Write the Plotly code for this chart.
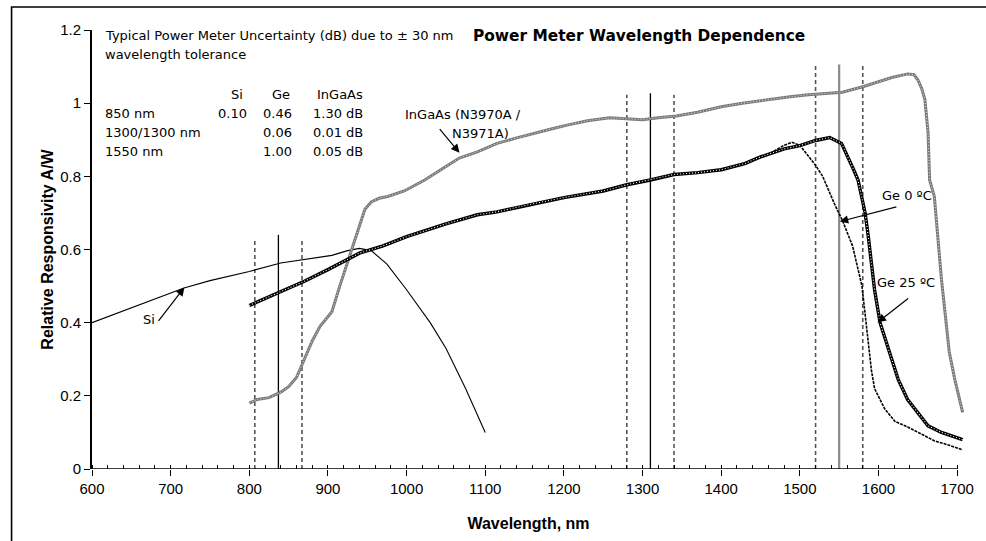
import plotly.graph_objects as go

# ---------------- data ----------------
si_wl = [600, 650, 700, 717, 750, 800, 840, 870, 905, 925, 940, 955, 975, 1000, 1030, 1050, 1075, 1100]
si_resp = [0.40, 0.44, 0.48, 0.495, 0.515, 0.54, 0.563, 0.573, 0.584, 0.597, 0.603, 0.597, 0.56, 0.49, 0.40, 0.33, 0.22, 0.10]

ge25_wl = [800, 840, 870, 900, 940, 970, 1000, 1050, 1090, 1115, 1150, 1200, 1250, 1280, 1310, 1340, 1370,
           1400, 1430, 1450, 1480, 1500, 1520, 1538, 1553, 1561, 1568, 1574, 1579, 1583, 1587, 1591, 1595,
           1602, 1610, 1617, 1625, 1637, 1655, 1663, 1680, 1707]
ge25_resp = [0.447, 0.486, 0.513, 0.545, 0.59, 0.61, 0.635, 0.67, 0.695, 0.703, 0.72, 0.742, 0.76, 0.777, 0.79,
             0.805, 0.81, 0.818, 0.835, 0.853, 0.875, 0.884, 0.898, 0.906, 0.89, 0.855, 0.82, 0.79, 0.736, 0.70,
             0.636, 0.565, 0.49, 0.40, 0.346, 0.30, 0.245, 0.19, 0.142, 0.118, 0.10, 0.08]

ge0_wl = [1400, 1430, 1460, 1480, 1490, 1500, 1511, 1520, 1529, 1533, 1545, 1554, 1567, 1579, 1585, 1591,
          1595, 1608, 1621, 1637, 1655, 1671, 1690, 1707]
ge0_resp = [0.818, 0.837, 0.86, 0.885, 0.893, 0.885, 0.855, 0.83, 0.80, 0.78, 0.72, 0.68, 0.61, 0.50, 0.38,
            0.27, 0.22, 0.164, 0.13, 0.115, 0.095, 0.077, 0.065, 0.052]

ingaas_wl = [800, 810, 825, 840, 850, 860, 870, 880, 890, 905, 915, 922, 930, 939, 947, 955, 965, 976, 997,
             1010, 1023, 1045, 1067, 1090, 1115, 1140, 1162, 1185, 1204, 1230, 1258, 1280, 1300, 1320, 1343,
             1370, 1400, 1427, 1460, 1490, 1511, 1540, 1554, 1580, 1600, 1617, 1637, 1645, 1650, 1655, 1659,
             1663, 1665, 1671, 1680, 1690, 1697, 1707]
ingaas_resp = [0.18, 0.19, 0.195, 0.21, 0.225, 0.25, 0.30, 0.35, 0.39, 0.43, 0.50, 0.545, 0.60, 0.66, 0.71,
               0.73, 0.74, 0.745, 0.76, 0.775, 0.79, 0.82, 0.85, 0.867, 0.89, 0.905, 0.918, 0.93, 0.94, 0.952,
               0.96, 0.958, 0.955, 0.96, 0.965, 0.975, 0.99, 1.0, 1.01, 1.018, 1.023, 1.028, 1.03, 1.045,
               1.058, 1.07, 1.08, 1.078, 1.064, 1.04, 1.01, 0.92, 0.79, 0.745, 0.52, 0.32, 0.245, 0.155]

# wavelength markers (centre +/- tolerance)
marker_centres = [837, 1310, 1550]
tolerance_nm = 30
centre_tops = [0.64, 1.027, 1.106]
tolerance_tops = [0.627, 1.023, 1.106]

# uncertainty table
table_header = ["Si", "Ge", "InGaAs"]
table_rows = ["850 nm", "1300/1300 nm", "1550 nm"]
table_si = ["0.10", "", ""]
table_ge = ["0.46", "0.06", "1.00"]
table_ingaas = ["1.30 dB", "0.01 dB", "0.05 dB"]

# ---------------- layout geometry ----------------
W, H = 986, 541
ML, MR, MT, MB = 92, 15, 30, 71
XR = [600, 1710]
YR = [0, 1.2]
pw = W - ML - MR
ph = H - MT - MB


def px2x(px):
    return XR[0] + (px - ML) / pw * (XR[1] - XR[0])


def px2y(py):
    return YR[0] + (H - MB - py) / ph * (YR[1] - YR[0])


TXT = "DejaVu Sans"
fig = go.Figure()

# vertical wavelength markers
for c, top_c, top_t in zip(marker_centres, centre_tops, tolerance_tops):
    for off in (-tolerance_nm, tolerance_nm):
        fig.add_trace(go.Scatter(x=[c + off, c + off], y=[0, top_t], mode="lines",
                                 line=dict(color="#555555", width=1.6, dash="4px,3px"),
                                 hoverinfo="skip", showlegend=False))
    gray = c == marker_centres[-1]
    fig.add_trace(go.Scatter(x=[c, c], y=[0, top_c], mode="lines",
                             line=dict(color="#8a8a8a" if gray else "#000000", width=2.2 if gray else 1.3),
                             hoverinfo="skip", showlegend=False))

# Si
fig.add_trace(go.Scatter(x=si_wl, y=si_resp, mode="lines", name="Si",
                         line=dict(color="#000000", width=1.1), showlegend=False))
# InGaAs
fig.add_trace(go.Scatter(x=ingaas_wl, y=ingaas_resp, mode="lines", name="InGaAs (N3970A / N3971A)",
                         line=dict(color="#7a7a7a", width=3), showlegend=False))
fig.add_trace(go.Scatter(x=ingaas_wl, y=ingaas_resp, mode="lines", hoverinfo="skip",
                         line=dict(color="#ffffff", width=0.8, dash="1px,2px"), showlegend=False))
# Ge 0 C
fig.add_trace(go.Scatter(x=ge0_wl, y=ge0_resp, mode="lines", name="Ge 0 °C",
                         line=dict(color="#000000", width=1.6, dash="3px,1px"), showlegend=False))
# Ge 25 C
fig.add_trace(go.Scatter(x=ge25_wl, y=ge25_resp, mode="lines", name="Ge 25 °C",
                         line=dict(color="#000000", width=3.4), showlegend=False))
fig.add_trace(go.Scatter(x=ge25_wl, y=ge25_resp, mode="lines", hoverinfo="skip",
                         line=dict(color="#ffffff", width=1.1, dash="1px,2px"), showlegend=False))

ann = []


def text(s, px, py, xanchor="left", size=13, bold=False, family=TXT):
    ann.append(dict(x=px2x(px), y=px2y(py), xref="x", yref="y", text=f"<b>{s}</b>" if bold else s,
                    showarrow=False, xanchor=xanchor, yanchor="middle",
                    font=dict(family=family, size=size, color="#000000")))


def arrow(hx, hy, tx, ty):
    ann.append(dict(x=px2x(hx), y=px2y(hy), xref="x", yref="y", text="", showarrow=True,
                    ax=tx - hx, ay=ty - hy, arrowhead=2, arrowsize=1.4, arrowwidth=1.2,
                    arrowcolor="#000000"))


# header text
text("Typical Power Meter Uncertainty (dB) due to ± 30 nm", 103, 36)
text("wavelength tolerance", 103, 55)
text("Power Meter Wavelength Dependence", 474, 36, size=15.4, bold=True)

col_right = [250, 295, 367]
text(table_header[0], col_right[0] - 4, 95, xanchor="right")
text(table_header[1], col_right[1] - 2, 95, xanchor="right")
text(table_header[2], col_right[2], 95, xanchor="right")
for i, (r, s, g, ig) in enumerate(zip(table_rows, table_si, table_ge, table_ingaas)):
    yy = 114 + 19 * i
    text(r, 103, yy)
    if s:
        text(s, col_right[0], yy, xanchor="right")
    text(g, col_right[1], yy, xanchor="right")
    text(ig, col_right[2], yy, xanchor="right")

# curve labels and arrows
text("InGaAs (N3970A /", 405, 115)
text("N3971A)", 514, 134, xanchor="right")
arrow(462, 153, 441, 128)
text("Si", 149, 320, xanchor="center")
arrow(185, 288, 158, 323)
text("Ge 0 ºC", 913, 196, xanchor="center")
arrow(845, 222, 903, 207)
text("Ge 25 ºC", 912, 283, xanchor="center")
arrow(883, 323, 915, 298)

fig.update_layout(
    width=W, height=H,
    margin=dict(l=ML, r=MR, t=MT, b=MB, pad=0),
    paper_bgcolor="#ffffff", plot_bgcolor="#ffffff",
    showlegend=False,
    annotations=ann,
    xaxis=dict(range=XR, tickmode="linear", tick0=600, dtick=100, showgrid=False, zeroline=False,
               showline=False,
               ticks="outside", ticklen=6, tickwidth=1.3, tickcolor="#000000",
               minor=dict(tickmode="linear", tick0=600, dtick=20, ticks="inside", ticklen=4,
                          tickcolor="#000000", tickwidth=1, showgrid=False),
               tickfont=dict(family="Liberation Sans", size=15, color="#000000"),
               title=dict(text="<b>Wavelength, nm</b>", standoff=21,
                          font=dict(family="Liberation Sans", size=16, color="#000000"))),
    yaxis=dict(range=YR, tickmode="linear", tick0=0, dtick=0.2, showgrid=False, zeroline=False,
               showline=True,
               linecolor="#000000", linewidth=1.8, ticks="outside", ticklen=6, tickwidth=1.3,
               tickcolor="#000000",
               tickfont=dict(family="Liberation Sans", size=15, color="#000000"),
               title=dict(text="<b>Relative Responsivity A/W</b>", standoff=3,
                          font=dict(family="Liberation Sans", size=16, color="#000000"))),
    shapes=[
        dict(type="line", xref="x", yref="y", x0=600, x1=1700, y0=0, y1=0,
             line=dict(color="#000000", width=1.6), layer="above"),
        dict(type="rect", xref="paper", yref="paper", x0=(11 - ML) / pw, x1=1.1,
             y0=-0.3, y1=(H - MB - 7) / ph, line=dict(color="#000000", width=1.6),
             fillcolor="rgba(0,0,0,0)", layer="below"),
    ],
)

fig.write_html("out.html")
